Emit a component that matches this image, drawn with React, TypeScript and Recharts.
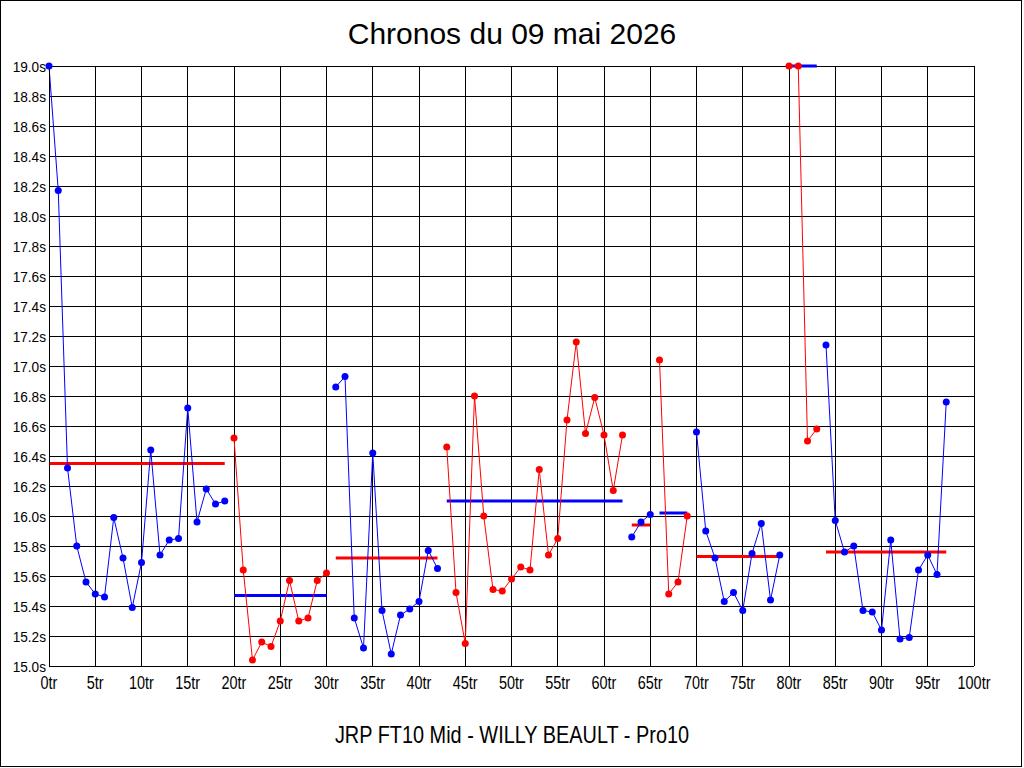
import { ComposedChart, Line, XAxis, YAxis, CartesianGrid } from 'recharts';

// lap times per stint (seconds)
const stint1 = [19.0, 18.17, 16.32, 15.8, 15.56, 15.48, 15.46, 15.99, 15.72, 15.39, 15.69, 16.44, 15.74, 15.84, 15.85, 16.72, 15.96, 16.18, 16.08, 16.1];
const stint2 = [16.52, 15.64, 15.04, 15.16, 15.13, 15.3, 15.57, 15.3, 15.32, 15.57, 15.62];
const stint3 = [16.86, 16.93, 15.32, 15.12, 16.42, 15.37, 15.08, 15.34, 15.38, 15.43, 15.77, 15.65];
const stint4 = [16.46, 15.49, 15.15, 16.8, 16.0, 15.51, 15.5, 15.58, 15.66, 15.64, 16.31, 15.74, 15.85, 16.64, 17.16, 16.55, 16.79, 16.54, 16.17, 16.54];
const stint5 = [15.86, 15.96, 16.01];
const stint6 = [17.04, 15.48, 15.56, 16.0];
const stint7 = [16.56, 15.9, 15.72, 15.43, 15.49, 15.37, 15.75, 15.95, 15.44, 15.74];
const stint8 = [19.0, 19.0, 16.5, 16.58];
const stint9 = [17.14, 15.97, 15.76, 15.8, 15.37, 15.36, 15.24, 15.84, 15.18, 15.19, 15.64, 15.74, 15.61, 16.76];

const stints = [stint1, stint2, stint3, stint4, stint5, stint6, stint7, stint8, stint9];
// reference line drawn across each stint
const stintAverages = [16.35, 15.47, 15.72, 16.1, 15.94, 16.02, 15.73, 19.0, 15.76];

const xTicks = [0, 5, 10, 15, 20, 25, 30, 35, 40, 45, 50, 55, 60, 65, 70, 75, 80, 85, 90, 95, 100];
const yTicks = [15.0, 15.2, 15.4, 15.6, 15.8, 16.0, 16.2, 16.4, 16.6, 16.8, 17.0, 17.2, 17.4, 17.6, 17.8, 18.0, 18.2, 18.4, 18.6, 18.8, 19.0];

const BLUE = '#0000ff';
const RED = '#ff0000';
const FONT = '"Liberation Sans", Arial, sans-serif';

const rows: Record<string, number>[] = [];
let lap = 0;
stints.forEach((times, i) => {
  times.forEach((t) => {
    rows.push({ lap, [`s${i}`]: t, [`a${i}`]: stintAverages[i] });
    lap++;
  });
});

const XTick = ({ x, y, payload }: any) => (
  <g transform={`translate(${x},${y})`}>
    <text
      transform="scale(0.78,1)"
      textAnchor="middle"
      dy={23}
      fontSize={18.5}
      fontFamily={FONT}
      fill="#000"
    >
      {`${payload.value}tr`}
    </text>
  </g>
);

const YTick = ({ x, y, payload, anchor }: any) => (
  <g transform={`translate(${x},${y})`}>
    <text
      transform="scale(0.88,1)"
      textAnchor={anchor}
      dy={5.5}
      fontSize={15.5}
      fontFamily={FONT}
      fill="#000"
    >
      {`${payload.value.toFixed(1)}s`}
    </text>
  </g>
);

export default function App() {
  return (
    <div style={{ position: 'absolute', left: 0, top: 0, width: 1024, height: 768, background: '#fff' }}>
      <style>{`.recharts-cartesian-grid line, .recharts-cartesian-axis-line { shape-rendering: crispEdges; }`}</style>
      <ComposedChart
        width={1024}
        height={768}
        data={rows}
        margin={{ top: 66, right: 0, bottom: 72, left: 0 }}
      >
        <CartesianGrid stroke="#000" strokeWidth={1} />
        <XAxis
          dataKey="lap"
          type="number"
          domain={[0, 100]}
          ticks={xTicks}
          interval={0}
          height={30}
          tickSize={0}
          tickMargin={0}
          axisLine={{ stroke: '#000' }}
          tickLine={false}
          tick={<XTick />}
        />
        <YAxis
          type="number"
          domain={[15, 19]}
          ticks={yTicks}
          interval={0}
          width={49}
          tickSize={0}
          tickMargin={3}
          axisLine={{ stroke: '#000' }}
          tickLine={false}
          tick={<YTick anchor="end" />}
        />
        <YAxis
          yAxisId="right"
          orientation="right"
          type="number"
          domain={[15, 19]}
          ticks={yTicks}
          interval={0}
          width={50}
          tickSize={0}
          tickMargin={5}
          axisLine={{ stroke: '#000' }}
          tickLine={false}
          tick={<YTick anchor="start" />}
        />
        {stints.map((_, i) => (
          <Line
            key={`a${i}`}
            dataKey={`a${i}`}
            stroke={i % 2 === 0 ? RED : BLUE}
            strokeWidth={3}
            dot={false}
            activeDot={false}
            isAnimationActive={false}
          />
        ))}
        {stints.map((_, i) => {
          const color = i % 2 === 0 ? BLUE : RED;
          return (
            <Line
              key={`s${i}`}
              dataKey={`s${i}`}
              stroke={color}
              strokeWidth={1}
              dot={{ r: 3.5, fill: color, stroke: color, strokeWidth: 0 }}
              activeDot={false}
              isAnimationActive={false}
            />
          );
        })}
      </ComposedChart>
      <svg
        width={1024}
        height={768}
        style={{ position: 'absolute', left: 0, top: 0, pointerEvents: 'none' }}
      >
        <rect x={0.5} y={0.5} width={1021} height={766} fill="none" stroke="#000" strokeWidth={1} />
        <text x={512} y={44} textAnchor="middle" fontSize={30} fontFamily={FONT} fill="#000">
          Chronos du 09 mai 2026
        </text>
        <g transform="translate(512,742.7)">
          <text transform="scale(0.84,1)" textAnchor="middle" fontSize={23.7} fontFamily={FONT} fill="#000">
            JRP FT10 Mid - WILLY BEAULT - Pro10
          </text>
        </g>
      </svg>
    </div>
  );
}
